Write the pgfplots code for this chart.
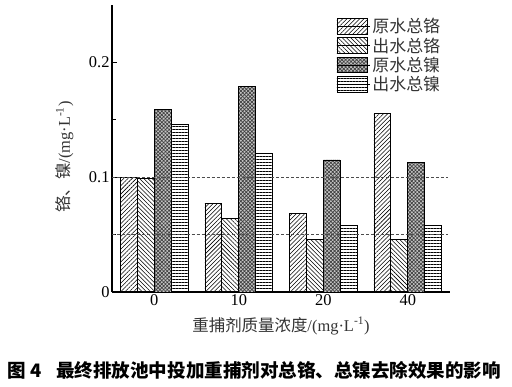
\documentclass[border=0pt]{standalone}
\usepackage{fontspec}
\setmainfont{Liberation Serif}
\newfontfamily\cjk{Noto Sans CJK SC}
\usepackage{pgfplots}
\pgfplotsset{compat=1.18}
\usetikzlibrary{patterns,patterns.meta}
\begin{document}
\begin{tikzpicture}
\path[use as bounding box] (-112bp,-95bp) rectangle (400bp,292bp);
\begin{axis}[
  at={(0,0)}, anchor=south west,
  scale only axis, width=338bp, height=287bp,
  xmin=-0.5, xmax=3.5, ymin=0, ymax=0.25,
  axis x line*=bottom, axis y line*=left,
  axis line style={line width=1.1bp},
  tick align=inside,
  xtick={0,1,2,3}, xticklabels={0,10,20,40},
  major x tick style={draw=none},
  ytick={0,0.1,0.2},
  yticklabels={0,0.1,0.2},
  minor ytick={0.05,0.15},
  major tick length=5bp, minor tick length=4bp,
  tick style={line width=0.9bp, black},
  /pgf/number format/assume math mode=true,
  ticklabel style={font=\fontsize{16.5}{16.5}\selectfont},
  xticklabel style={yshift=1bp},
  yticklabel style={xshift=1bp},
  ylabel={{\cjk 铬、镍}/(mg·L\textsuperscript{-1})},
  xlabel={{\cjk 重捕剂质量浓度}/(mg·L\textsuperscript{-1})},
  label style={font=\fontsize{16.5}{16.5}\selectfont, text=black!80},
  ylabel style={at={(axis description cs:-0.14,0.47)}, anchor=center, rotate=0},
  xlabel style={at={(axis description cs:0.5,-0.118)}, anchor=center},
  legend style={at={(rel axis cs:0.655,0.965)}, anchor=north west, draw=none, fill=none,
    font=\cjk\fontsize{17}{17}\selectfont, text=black!80, row sep=1.5bp,
    nodes={inner xsep=2bp, inner ysep=1bp}},
  legend cell align=left,
  legend image code/.code={\draw[#1] (0bp,-7.8bp) rectangle (30bp,7.8bp); \path (0bp,0bp) -- (33bp,0bp);},
  clip=false,
]
\addplot[ybar, bar width=0.2, bar shift=-0.3, draw=black, line width=0.8bp,
  pattern={Lines[angle=45,distance=3bp,line width=0.55bp]}, pattern color=black]
  coordinates {(0,0.100) (1,0.0773) (2,0.0686) (3,0.1558)};
\addlegendentry{原水总铬}
\addplot[ybar, bar width=0.2, bar shift=-0.1, draw=black, line width=0.8bp,
  pattern={Lines[angle=-45,distance=3bp,line width=0.55bp]}, pattern color=black]
  coordinates {(0,0.099) (1,0.0643) (2,0.046) (3,0.046)};
\addlegendentry{出水总铬}
\addplot[ybar, bar width=0.2, bar shift=0.1, draw=black, line width=0.8bp,
  fill=gray!45, postaction={pattern={Hatch[angle=45,distance=2.6bp,line width=0.7bp]}, pattern color=black!75}]
  coordinates {(0,0.1587) (1,0.179) (2,0.115) (3,0.1127)};
\addlegendentry{原水总镍}
\addplot[ybar, bar width=0.2, bar shift=0.3, draw=black, line width=0.8bp,
  pattern={Lines[angle=0,distance=3bp,line width=0.7bp]}, pattern color=black]
  coordinates {(0,0.146) (1,0.1203) (2,0.0578) (3,0.0578)};
\addlegendentry{出水总镍}
\addplot[densely dashed, black!70, line width=0.5bp, forget plot]
  coordinates {(-0.5,0.1) (3.48,0.1)};
\addplot[densely dashed, black!70, line width=0.5bp, forget plot]
  coordinates {(-0.5,0.05) (3.48,0.05)};
\end{axis}
\node[anchor=west, font=\cjk\bfseries\fontsize{18.6}{18.6}\selectfont] at (-108bp,-78bp)
  {图\hspace{4bp}4\hspace{15bp}最终排放池中投加重捕剂对总铬、总镍去除效果的影响};
\end{tikzpicture}
\end{document}
